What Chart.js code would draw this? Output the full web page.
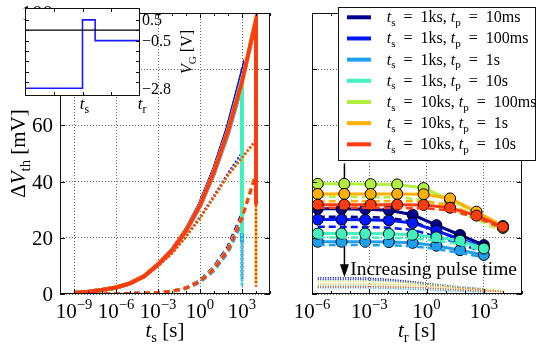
<!DOCTYPE html>
<html>
<head>
<meta charset="utf-8">
<script src="https://cdn.jsdelivr.net/npm/chart.js@4.4.0/dist/chart.umd.min.js"></script>
<style>
body { margin: 0; background: #fff; }
#wrap { position: relative; width: 542px; height: 351px; }
canvas { position: absolute; top: 0; }
</style>
</head>
<body>
<div id="wrap">
  <canvas id="left" width="285" height="351" style="left:0"></canvas>
  <canvas id="right" width="257" height="351" style="left:285px"></canvas>
  <canvas id="inset" width="200" height="120" style="left:0"></canvas>
</div>
<script>
var FONT = '"Liberation Serif", "DejaVu Serif", serif';

// series
var seriesTs = ['1ks', '1ks', '1ks', '1ks', '10ks', '10ks', '10ks'];
var seriesTp = ['10ms', '100ms', '1s', '10s', '100ms', '1s', '10s'];
var seriesColors = ['#000090', '#0018ff', '#1ea0ee', '#44f0c0', '#b2f040', '#ffb000', '#ff3c10'];

// stress time (s)
var tsShort = [1e-9, 1e-8, 1e-7, 1e-6, 1e-5, 1e-4, 1e-3, 1e-2, 1e-1, 1, 10, 100, 1000];
var tsLong = [1e-9, 1e-8, 1e-7, 1e-6, 1e-5, 1e-4, 1e-3, 1e-2, 1e-1, 1, 10, 100, 1000, 10000];
// recovery time (s)
var trShort = [2e-6, 3.5e-5, 6.1e-4, 1.07e-2, 0.187, 3.27, 57, 1000];
var trLong = [2e-6, 4.9e-5, 1.18e-3, 2.9e-2, 0.70, 17, 411, 10000];

// stress phase, dVth [mV]: total (solid), dashed part, dotted part
var stressTotal = [
  [0.4, 0.8, 1.4, 2.3, 3.8, 6.3, 10.5, 15.6, 22.7, 32, 44.3, 59.5, 78.5],
  [0.4, 0.8, 1.4, 2.3, 3.8, 6.3, 10.5, 15.6, 22.7, 32, 44.2, 59.3, 78.3],
  [0.4, 0.8, 1.4, 2.3, 3.8, 6.3, 10.4, 15.4, 22.3, 31.2, 42.8, 57, 74.5],
  [0.4, 0.8, 1.4, 2.3, 3.8, 6.3, 10.5, 15.5, 22.5, 31.6, 43.5, 58.2, 76.5],
  [0.4, 0.8, 1.4, 2.3, 3.8, 6.3, 10.5, 15.5, 22.5, 31.5, 43.5, 58, 75.6, 97.8],
  [0.4, 0.8, 1.4, 2.3, 3.8, 6.3, 10.5, 15.5, 22.5, 31.5, 43.5, 58, 75.5, 97.6],
  [0.4, 0.8, 1.4, 2.3, 3.8, 6.3, 10.5, 15.5, 22.5, 31.5, 43.5, 58, 75.5, 97.5]
];
var stressDashed = [
  [0, 0, 0, 0.1, 0.2, 0.3, 0.5, 1.0, 2.2, 4.8, 9.6, 16.8, 28.5],
  [0, 0, 0, 0.1, 0.2, 0.3, 0.5, 1.0, 2.2, 4.7, 9.4, 16.5, 28.2],
  [0, 0, 0, 0.1, 0.2, 0.3, 0.5, 0.9, 1.9, 4.1, 8.3, 14.8, 25.5],
  [0, 0, 0, 0.1, 0.2, 0.3, 0.5, 1.0, 2.1, 4.5, 9.1, 16, 27.3],
  [0, 0, 0, 0.1, 0.2, 0.3, 0.5, 1.0, 2.2, 4.6, 9.2, 16.0, 27.5, 43.5],
  [0, 0, 0, 0.1, 0.2, 0.3, 0.5, 1.0, 2.1, 4.5, 9.0, 15.8, 27.2, 43],
  [0, 0, 0, 0.1, 0.2, 0.3, 0.5, 1.0, 2.1, 4.4, 8.9, 15.6, 27, 42.6]
];
var stressDotted = [
  [0.4, 0.8, 1.4, 2.2, 3.6, 6.0, 10.0, 14.6, 20.5, 27.2, 34.7, 42.7, 50],
  [0.4, 0.8, 1.4, 2.2, 3.6, 6.0, 10.0, 14.6, 20.5, 27.3, 34.8, 42.8, 50.1],
  [0.4, 0.8, 1.4, 2.2, 3.6, 6.0, 9.9, 14.5, 20.4, 27.1, 34.5, 42.2, 49],
  [0.4, 0.8, 1.4, 2.2, 3.6, 6.0, 10.0, 14.5, 20.4, 27.1, 34.4, 42.2, 49.2],
  [0.4, 0.8, 1.4, 2.2, 3.6, 6.0, 10.0, 14.5, 20.3, 26.9, 34.3, 42.0, 48.1, 54.3],
  [0.4, 0.8, 1.4, 2.2, 3.6, 6.0, 10.0, 14.5, 20.4, 27.0, 34.5, 42.2, 48.3, 54.6],
  [0.4, 0.8, 1.4, 2.2, 3.6, 6.0, 10.0, 14.5, 20.4, 27.1, 34.6, 42.4, 48.5, 54.9]
];

// recovery phase, dVth [mV]
var recTotal = [
  [30.3, 30.3, 30.2, 29.8, 28.2, 24.5, 21, 17.4],
  [26.5, 26.5, 26.4, 26.2, 25.3, 22.5, 19.5, 16.4],
  [18.6, 18.6, 18.6, 18.5, 18.2, 17.2, 15.6, 13.9],
  [21.5, 21.5, 21.5, 21.4, 21.1, 20.2, 19, 16.2],
  [39.2, 39.2, 39.1, 39, 37.7, 33.5, 29, 23.5],
  [35.6, 35.6, 35.6, 35.6, 35.5, 34, 29.3, 24.2],
  [31.8, 31.8, 31.8, 31.8, 31.7, 30.7, 27.9, 23.9]
];
var recDashed = [
  [27.5, 27.5, 27.4, 27.1, 25.8, 22.5, 19.2, 16.0],
  [23.9, 23.9, 23.8, 23.6, 22.8, 20.5, 17.8, 14.9],
  [17.4, 17.4, 17.4, 17.3, 17.0, 16.0, 14.6, 13.1],
  [20.1, 20.1, 20.1, 20.0, 19.8, 19.0, 17.8, 15.3],
  [34.6, 34.6, 34.5, 34.4, 33.6, 30.2, 26.6, 22.2],
  [33.0, 33.0, 33.0, 33.0, 33.0, 31.8, 27.7, 23.2],
  [30.7, 30.7, 30.7, 30.6, 30.5, 29.8, 27.2, 23.3]
];
var recDotted = [
  [5.8, 5.8, 5.7, 5.2, 4.4, 3.4, 2.5, 1.8],
  [5.2, 5.2, 5.1, 4.7, 4.0, 3.1, 2.3, 1.6],
  [2.2, 2.2, 2.2, 2.0, 1.7, 1.3, 1.0, 0.7],
  [3.0, 3.0, 2.9, 2.7, 2.3, 1.8, 1.3, 0.9],
  [4.6, 4.6, 4.5, 4.3, 3.7, 2.8, 1.9, 1.2],
  [3.6, 3.6, 3.5, 3.4, 3.0, 2.3, 1.6, 1.0],
  [2.6, 2.6, 2.6, 2.5, 2.2, 1.7, 1.2, 0.8]
];

// ticks
var leftXTicks = [1e-9, 1e-6, 1e-3, 1, 1e3];
var leftXExp = ['\u22129', '\u22126', '\u22123', '0', '3'];
var rightXTicks = [1e-6, 1e-3, 1, 1e3];
var rightXExp = ['\u22126', '\u22123', '0', '3'];
var yTicks = [0, 20, 40, 60, 80, 100];

// inset: gate voltage schedule
var insetX = [0, 0.5, 0.5, 0.61, 0.61, 1];
var insetVg = [-2.8, -2.8, 0.5, 0.5, -0.5, -0.5];
var insetYTicks = [0.5, -0.5, -2.8];
var insetYLabels = ['0.5', '\u22120.5', '\u22122.8'];
var insetXTicks = [0.5, 1];
var insetXSub = ['s', 'r'];

// ---- rich text helpers (sub/superscripts) ----
function fontFor(flag, size) {
  var small = flag.indexOf('b') >= 0 || flag.indexOf('p') >= 0;
  var sz = small ? size * 0.7 : size;
  return (flag.indexOf('i') >= 0 ? 'italic ' : '') + sz.toFixed(1) + 'px ' + FONT;
}
function richWidth(ctx, segs, size) {
  var w = 0;
  segs.forEach(function (s) { ctx.font = fontFor(s[1], size); w += ctx.measureText(s[0]).width; });
  return w;
}
function drawRich(ctx, segs, x, y, size, align) {
  var w = richWidth(ctx, segs, size);
  var cx = align == 'center' ? x - w / 2 : align == 'right' ? x - w : x;
  ctx.textAlign = 'left';
  ctx.textBaseline = 'alphabetic';
  segs.forEach(function (s) {
    ctx.font = fontFor(s[1], size);
    var dy = s[1].indexOf('b') >= 0 ? size * 0.22 : s[1].indexOf('p') >= 0 ? -size * 0.42 : 0;
    ctx.fillText(s[0], cx, y + dy);
    cx += ctx.measureText(s[0]).width;
  });
}

function pts(xs, ys) {
  return xs.map(function (x, i) { return { x: x, y: ys[i] }; });
}

// frame, ticks, labels for the two main panels
function makeFrame(cfg) {
  return {
    id: 'frame' + cfg.name,
    beforeDatasetsDraw: function (chart) {
      if (cfg.before) cfg.before(chart);
    },
    afterDraw: function (chart) {
      var ctx = chart.ctx, a = chart.chartArea, xs = chart.scales.x, ys = chart.scales.y;
      ctx.save();
      ctx.strokeStyle = '#111';
      ctx.lineWidth = 1;
      ctx.strokeRect(a.left + 0.5, a.top + 0.5, a.right - a.left - 1, a.bottom - a.top - 1);
      // inward ticks
      ctx.beginPath();
      for (var e = -10; e <= 5; e++) {
        var v = Math.pow(10, e);
        if (v < xs.min || v > xs.max) continue;
        var px = Math.round(xs.getPixelForValue(v)) + 0.5;
        var len = cfg.xTicks.indexOf(v) >= 0 ? 5 : 3;
        ctx.moveTo(px, a.bottom); ctx.lineTo(px, a.bottom - len);
        ctx.moveTo(px, a.top); ctx.lineTo(px, a.top + len);
      }
      yTicks.forEach(function (v) {
        var py = Math.round(ys.getPixelForValue(v)) + 0.5;
        ctx.moveTo(a.left, py); ctx.lineTo(a.left + 5, py);
        ctx.moveTo(a.right, py); ctx.lineTo(a.right - 5, py);
      });
      ctx.stroke();
      ctx.fillStyle = '#000';
      cfg.xTicks.forEach(function (v, i) {
        drawRich(ctx, [['10', ''], [cfg.xExp[i], 'p']], xs.getPixelForValue(v), 318, 21, 'center');
      });
      if (cfg.yLabels) {
        yTicks.forEach(function (v) {
          drawRich(ctx, [[String(v), '']], a.left - 7, ys.getPixelForValue(v) + 7, 21, 'right');
        });
      }
      drawRich(ctx, cfg.xTitle, (a.left + a.right) / 2, 337, 21, 'center');
      if (cfg.yTitle) {
        ctx.save();
        ctx.translate(25, (a.top + a.bottom) / 2);
        ctx.rotate(-Math.PI / 2);
        drawRich(ctx, cfg.yTitle, 0, 0, 21, 'center');
        ctx.restore();
      }
      if (cfg.after) cfg.after(chart);
      ctx.restore();
    }
  };
}

function gridOpts() {
  return { color: '#666', lineWidth: 1, drawTicks: false };
}

// ---- left panel: stress ----
var leftSets = [];
var n = 0;
for (var k = 0; k < 7; k++) {
  var ts = k < 4 ? tsShort : tsLong;
  var tEnd = ts[ts.length - 1];
  var solid = pts(ts, stressTotal[k]);
  solid.push({ x: tEnd, y: recTotal[k][0] });
  var dotted = pts(ts, stressDotted[k]);
  dotted.push({ x: tEnd, y: recDotted[k][0] });
  leftSets.push({ data: solid, borderColor: seriesColors[k], borderWidth: 4, order: 1000 - n++ });
  leftSets.push({ data: pts(ts, stressDashed[k]), borderColor: seriesColors[k], borderWidth: 3, borderDash: [6, 4], order: 1000 - n++ });
  leftSets.push({ data: dotted, borderColor: seriesColors[k], borderWidth: 2.5, borderDash: [2, 2], order: 1000 - n++ });
}

new Chart(document.getElementById('left'), {
  type: 'line',
  data: { datasets: leftSets },
  options: {
    responsive: false, animation: false, devicePixelRatio: 1,
    layout: { padding: { top: 13, right: 15, left: 0, bottom: 0 } },
    plugins: { legend: { display: false }, tooltip: { enabled: false } },
    elements: { point: { radius: 0 }, line: { tension: 0, fill: false } },
    scales: {
      x: {
        type: 'logarithmic', min: 1e-10, max: 1e5,
        afterBuildTicks: function (s) { s.ticks = leftXTicks.map(function (v) { return { value: v }; }); },
        afterFit: function (s) { s.height = 57; },
        ticks: { display: false },
        grid: gridOpts(), border: { display: false, dash: [1, 2] }
      },
      y: {
        type: 'linear', min: 0, max: 100,
        ticks: { display: false, stepSize: 20 },
        afterFit: function (s) { s.width = 60; },
        grid: gridOpts(), border: { display: false, dash: [1, 2] }
      }
    }
  },
  plugins: [makeFrame({
    name: 'L', xTicks: leftXTicks, xExp: leftXExp, yLabels: true,
    xTitle: [['t', 'i'], ['s', 'b'], [' [s]', '']],
    yTitle: [['\u0394', ''], ['V', 'i'], ['th', 'b'], [' [mV]', '']]
  })]
});

// ---- right panel: recovery ----
var rightSets = [];
n = 0;
for (var k = 0; k < 7; k++) {
  var tr = k < 4 ? trShort : trLong;
  rightSets.push({
    data: pts(tr, recTotal[k]), borderColor: seriesColors[k], borderWidth: 3,
    pointRadius: 5.5, pointBackgroundColor: seriesColors[k], pointBorderColor: '#000', pointBorderWidth: 1,
    order: 1000 - n++
  });
  rightSets.push({ data: pts(tr, recDashed[k]), borderColor: seriesColors[k], borderWidth: 2.5, borderDash: [7, 4], pointRadius: 0, order: 1000 - n++ });
  rightSets.push({ data: pts(tr, recDotted[k]), borderColor: seriesColors[k], borderWidth: 1.5, borderDash: [1, 1.5], pointRadius: 0, order: 1000 - n++ });
}

function drawArrow(chart) {
  var ctx = chart.ctx, xs = chart.scales.x, ys = chart.scales.y;
  var x = xs.getPixelForValue(5e-5), y0 = ys.getPixelForValue(46.5), y1 = ys.getPixelForValue(6);
  ctx.save();
  ctx.strokeStyle = '#000'; ctx.fillStyle = '#000'; ctx.lineWidth = 1.5;
  ctx.beginPath(); ctx.moveTo(x, y0); ctx.lineTo(x, y1 - 10); ctx.stroke();
  ctx.beginPath(); ctx.moveTo(x - 4.5, y1 - 13); ctx.lineTo(x + 4.5, y1 - 13); ctx.lineTo(x, y1); ctx.closePath(); ctx.fill();
  ctx.restore();
}

function drawNotes(chart) {
  var ctx = chart.ctx, xs = chart.scales.x, ys = chart.scales.y;
  ctx.fillStyle = '#000';
  drawRich(ctx, [['Increasing pulse time', '']], xs.getPixelForValue(1e-4), ys.getPixelForValue(6.8), 19.5, 'left');
  // legend
  var bx = 53, by = 7, bw = 197, bh = 153;
  ctx.fillStyle = '#fff';
  ctx.fillRect(bx, by, bw, bh);
  ctx.strokeStyle = '#111'; ctx.lineWidth = 1;
  ctx.strokeRect(bx + 0.5, by + 0.5, bw, bh);
  for (var i = 0; i < 7; i++) {
    var cy = 17.3 + i * 21.17;
    ctx.strokeStyle = seriesColors[i]; ctx.lineWidth = 4;
    ctx.beginPath(); ctx.moveTo(62, cy); ctx.lineTo(86, cy); ctx.stroke();
    ctx.fillStyle = '#000';
    drawRich(ctx, [['t', 'i'], ['s', 'b'], ['\u2002=\u2002' + seriesTs[i] + ', ', ''], ['t', 'i'], ['p', 'b'], ['\u2002=\u2002' + seriesTp[i], '']], 101.7, cy + 5, 16, 'left');
  }
}

new Chart(document.getElementById('right'), {
  type: 'line',
  data: { datasets: rightSets },
  options: {
    responsive: false, animation: false, devicePixelRatio: 1,
    layout: { padding: { top: 13, right: 20, left: 0, bottom: 0 } },
    plugins: { legend: { display: false }, tooltip: { enabled: false } },
    elements: { point: { radius: 0 }, line: { tension: 0, fill: false } },
    scales: {
      x: {
        type: 'logarithmic', min: 1e-6, max: 1e5,
        afterBuildTicks: function (s) { s.ticks = rightXTicks.map(function (v) { return { value: v }; }); },
        afterFit: function (s) { s.height = 57; },
        ticks: { display: false },
        grid: gridOpts(), border: { display: false, dash: [1, 2] }
      },
      y: {
        type: 'linear', min: 0, max: 100,
        ticks: { display: false, stepSize: 20 },
        afterFit: function (s) { s.width = 27; },
        grid: gridOpts(), border: { display: false, dash: [1, 2] }
      }
    }
  },
  plugins: [makeFrame({
    name: 'R', xTicks: rightXTicks, xExp: rightXExp, yLabels: false,
    xTitle: [['t', 'i'], ['r', 'b'], [' [s]', '']],
    before: drawArrow, after: drawNotes
  })]
});

// ---- inset: gate voltage ----
new Chart(document.getElementById('inset'), {
  type: 'line',
  data: {
    datasets: [
      { data: pts([0, 1], [0, 0]), borderColor: '#000', borderWidth: 1.2 },
      { data: pts(insetX, insetVg), borderColor: '#1a1aff', borderWidth: 1.6 }
    ]
  },
  options: {
    responsive: false, animation: false, devicePixelRatio: 1,
    layout: { padding: { top: 8, left: 25, right: 0, bottom: 0 } },
    plugins: { legend: { display: false }, tooltip: { enabled: false } },
    elements: { point: { radius: 0 }, line: { tension: 0 } },
    scales: {
      x: {
        type: 'linear', min: 0, max: 1,
        ticks: { display: false }, grid: { display: false }, border: { display: false },
        afterFit: function (s) { s.height = 24; }
      },
      y: {
        type: 'linear', position: 'right', min: -3.17, max: 1.07,
        ticks: { display: false }, grid: { display: false }, border: { display: false },
        afterFit: function (s) { s.width = 60; }
      }
    }
  },
  plugins: [{
    id: 'insetDeco',
    beforeDatasetsDraw: function (chart) {
      var a = chart.chartArea, ctx = chart.ctx;
      ctx.save();
      ctx.fillStyle = '#fff';
      ctx.fillRect(a.left, a.top, a.right - a.left, a.bottom - a.top);
      ctx.restore();
    },
    afterDraw: function (chart) {
      var a = chart.chartArea, ctx = chart.ctx, xs = chart.scales.x, ys = chart.scales.y;
      ctx.save();
      ctx.strokeStyle = '#111'; ctx.lineWidth = 1;
      ctx.strokeRect(a.left + 0.5, a.top + 0.5, a.right - a.left - 1, a.bottom - a.top - 1);
      ctx.beginPath();
      [0.25, 0.5, 0.75].forEach(function (v) {
        var px = Math.round(xs.getPixelForValue(v)) + 0.5;
        ctx.moveTo(px, a.top); ctx.lineTo(px, a.top + 4);
        ctx.moveTo(px, a.bottom); ctx.lineTo(px, a.bottom - 4);
      });
      [0.5, 0, -0.5, -1, -1.5, -2, -2.5].forEach(function (v) {
        var py = Math.round(ys.getPixelForValue(v)) + 0.5;
        ctx.moveTo(a.right, py); ctx.lineTo(a.right - 4, py);
        ctx.moveTo(a.left, py); ctx.lineTo(a.left + 4, py);
      });
      ctx.stroke();
      ctx.fillStyle = '#000';
      insetYTicks.forEach(function (v, i) {
        drawRich(ctx, [[insetYLabels[i], '']], a.right + 2, ys.getPixelForValue(v) + 5.5, 16, 'left');
      });
      insetXTicks.forEach(function (v, i) {
        drawRich(ctx, [['t', 'i'], [insetXSub[i], 'b']], xs.getPixelForValue(v) + 2, 109, 17, 'center');
      });
      ctx.translate(192, (a.top + a.bottom) / 2);
      ctx.rotate(-Math.PI / 2);
      drawRich(ctx, [['V', 'i'], ['G', 'b'], [' [V]', '']], 0, 0, 16, 'center');
      ctx.restore();
    }
  }]
});
</script>
</body>
</html>
